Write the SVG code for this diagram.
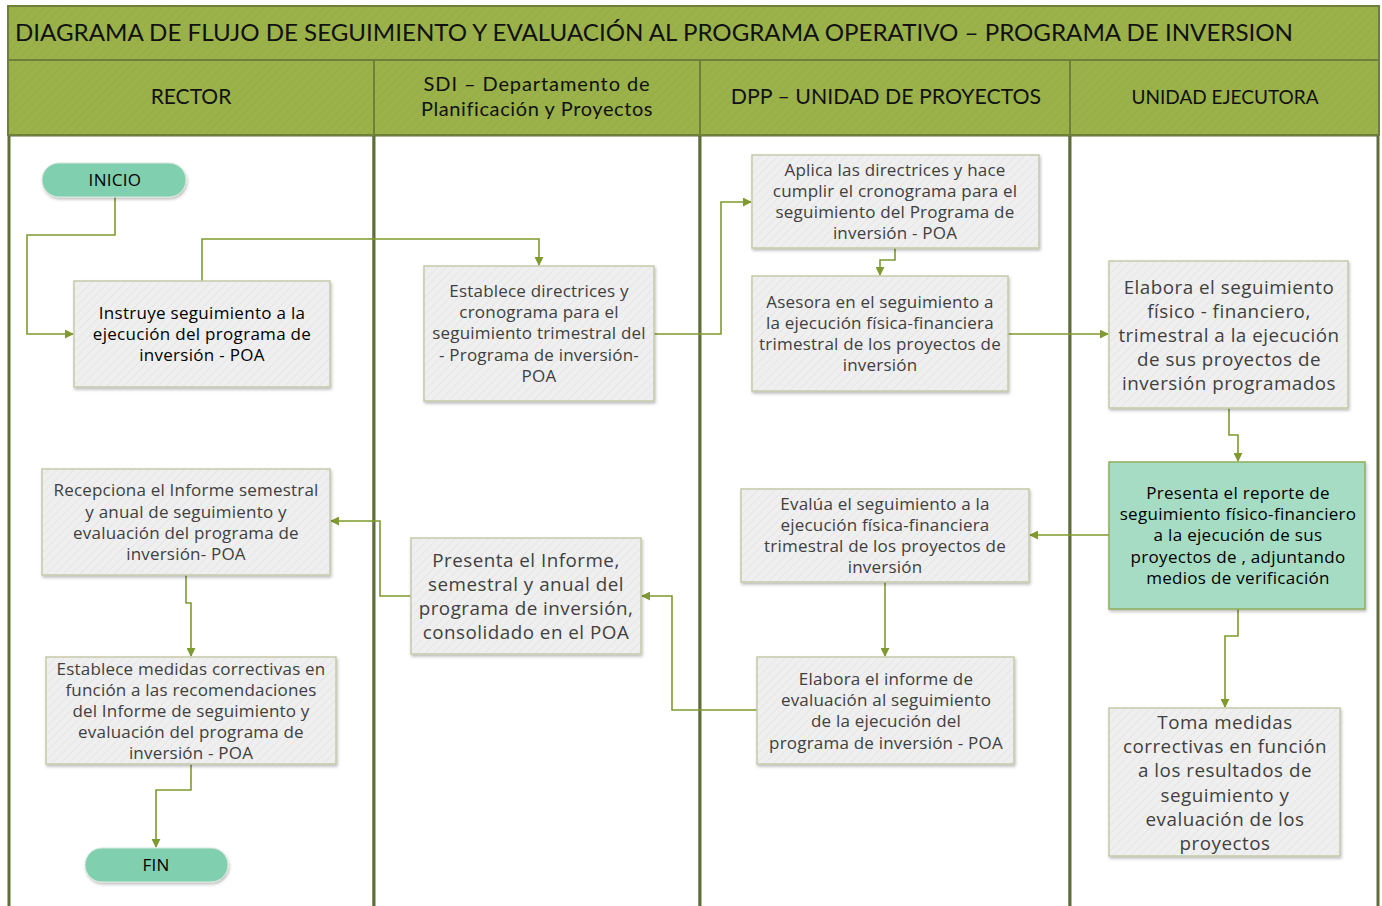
<svg xmlns="http://www.w3.org/2000/svg" width="1382" height="906" viewBox="0 0 1382 906">
<defs>
<pattern id="hatch" width="6" height="6" patternUnits="userSpaceOnUse" patternTransform="rotate(45)">
<rect width="6" height="6" fill="#efefef"/>
<line x1="0" y1="0" x2="0" y2="6" stroke="#e4e4e4" stroke-width="1.5"/>
</pattern>
<pattern id="hatchG" width="6" height="6" patternUnits="userSpaceOnUse" patternTransform="rotate(45)">
<rect width="6" height="6" fill="#9bb14a"/>
<line x1="0" y1="0" x2="0" y2="6" stroke="#94aa44" stroke-width="1.5"/>
</pattern>
<filter id="sh" x="-10%" y="-10%" width="125%" height="130%">
<feDropShadow dx="1" dy="2" stdDeviation="1.5" flood-color="#000" flood-opacity="0.25"/>
</filter>
<marker id="arr" viewBox="0 0 10 10" refX="9" refY="5" markerWidth="9" markerHeight="9" markerUnits="userSpaceOnUse" orient="auto">
<path d="M0,0 L10,5 L0,10 z" fill="#7f9a2e"/>
</marker>
<style>
.box{fill:url(#hatch);stroke:#c6caa8;stroke-width:1.5;filter:url(#sh)}
.pill{fill:#80cfae;stroke:#d8e8e0;stroke-width:1;filter:url(#sh)}
.green{fill:#a6dcc4;stroke:#8fae5a;stroke-width:1.5;filter:url(#sh)}
.t{font-family:"Open Sans",Lato,sans-serif;font-size:17px;letter-spacing:0.2px;fill:#404040;text-anchor:middle}
.tl{font-size:18.8px;letter-spacing:0.5px}
.tb{fill:#000;font-size:17px;letter-spacing:0.3px}
.h{font-family:Lato,"Open Sans",sans-serif;font-size:21px;fill:#111;text-anchor:middle}
.c{fill:none;stroke:#7f9a2e;stroke-width:1.6;marker-end:url(#arr)}
.lane{fill:#fff;stroke:#5f6e3a;stroke-width:3}
.hd{fill:url(#hatchG);stroke:#6e7f3a;stroke-width:2}
</style>
</defs>
<rect width="1382" height="906" fill="#fff"/>
<g id="lanes">
<rect class="lane" x="9" y="135" width="365" height="780"/>
<rect class="lane" x="374" y="135" width="326" height="780"/>
<rect class="lane" x="700" y="135" width="370" height="780"/>
<rect class="lane" x="1070" y="135" width="308" height="780"/>
</g>
<g id="header">
<rect class="hd" x="8" y="6" width="1371" height="54"/>
<text class="h" x="15" y="41" style="text-anchor:start;font-size:23px" textLength="1278" lengthAdjust="spacingAndGlyphs">DIAGRAMA DE FLUJO DE SEGUIMIENTO Y EVALUACIÓN AL PROGRAMA OPERATIVO – PROGRAMA DE INVERSION</text>
<rect class="hd" x="8" y="60" width="366" height="75"/>
<rect class="hd" x="374" y="60" width="326" height="75"/>
<rect class="hd" x="700" y="60" width="370" height="75"/>
<rect class="hd" x="1070" y="60" width="309" height="75"/>
<text class="h" x="191" y="104">RECTOR</text>
<text class="h" x="537" y="91" style="font-size:20px;letter-spacing:0.9px">SDI – Departamento de</text>
<text class="h" x="537" y="116" style="font-size:20px;letter-spacing:0.6px">Planificación y Proyectos</text>
<text class="h" x="886" y="104" style="font-size:21.3px">DPP – UNIDAD DE PROYECTOS</text>
<text class="h" x="1225" y="104" style="font-size:19px">UNIDAD EJECUTORA</text>
</g>
<g id="connectors">
<path class="c" d="M115,197 V235 H27 V334 H73"/>
<path class="c" d="M202,281 V239 H539 V265"/>
<path class="c" d="M654,334 H721 V202 H751"/>
<path class="c" d="M895,248 V260 H880 V275"/>
<path class="c" d="M1008,334 H1108"/>
<path class="c" d="M1229,408 V435 H1238 V461"/>
<path class="c" d="M1109,535 H1030"/>
<path class="c" d="M1238,609 V636 H1225 V707"/>
<path class="c" d="M885,582 V656"/>
<path class="c" d="M757,710 H672 V596 H642"/>
<path class="c" d="M411,596 H380 V521 H331"/>
<path class="c" d="M186,575 V603 H191 V656"/>
<path class="c" d="M191,764 V790 H156 V847"/>
</g>
<g id="inicio">
<rect class="pill" x="42" y="163" width="144" height="34" rx="17"/>
<text class="t tb" x="115" y="186">INICIO</text>
</g>
<g id="instruye">
<rect class="box" x="74" y="281" width="256" height="106"/>
<text class="t tb" x="202" y="319">Instruye seguimiento a la</text>
<text class="t tb" x="202" y="340">ejecución del programa de</text>
<text class="t tb" x="202" y="361">inversión - POA</text>
</g>
<g id="establece-directrices">
<rect class="box" x="424" y="266" width="230" height="135"/>
<text class="t" x="539" y="297">Establece directrices y</text>
<text class="t" x="539" y="318">cronograma para el</text>
<text class="t" x="539" y="339">seguimiento trimestral del</text>
<text class="t" x="539" y="361">- Programa de inversión-</text>
<text class="t" x="539" y="382">POA</text>
</g>
<g id="aplica">
<rect class="box" x="752" y="155" width="287" height="93"/>
<text class="t" x="895" y="176">Aplica las directrices y hace</text>
<text class="t" x="895" y="197">cumplir el cronograma para el</text>
<text class="t" x="895" y="218">seguimiento del Programa de</text>
<text class="t" x="895" y="239">inversión - POA</text>
</g>
<g id="asesora">
<rect class="box" x="752" y="276" width="256" height="115"/>
<text class="t" x="880" y="308">Asesora en el seguimiento a</text>
<text class="t" x="880" y="329">la ejecución física-financiera</text>
<text class="t" x="880" y="350">trimestral de los proyectos de</text>
<text class="t" x="880" y="371">inversión</text>
</g>
<g id="elabora-seguimiento">
<rect class="box" x="1109" y="261" width="239" height="147"/>
<text class="t tl" x="1229" y="294">Elabora el seguimiento</text>
<text class="t tl" x="1229" y="318">físico - financiero,</text>
<text class="t tl" x="1229" y="342">trimestral a la ejecución</text>
<text class="t tl" x="1229" y="366">de sus proyectos de</text>
<text class="t tl" x="1229" y="390">inversión programados</text>
</g>
<g id="presenta-reporte">
<rect class="green" x="1109" y="462" width="256" height="147"/>
<text class="t tb" x="1238" y="499">Presenta el reporte de</text>
<text class="t tb" x="1238" y="520">seguimiento físico-financiero</text>
<text class="t tb" x="1238" y="541">a la ejecución de sus</text>
<text class="t tb" x="1238" y="563">proyectos de , adjuntando</text>
<text class="t tb" x="1238" y="584">medios de verificación</text>
</g>
<g id="evalua">
<rect class="box" x="741" y="489" width="288" height="93"/>
<text class="t" x="885" y="510">Evalúa el seguimiento a la</text>
<text class="t" x="885" y="531">ejecución física-financiera</text>
<text class="t" x="885" y="552">trimestral de los proyectos de</text>
<text class="t" x="885" y="573">inversión</text>
</g>
<g id="elabora-informe">
<rect class="box" x="757" y="657" width="257" height="107"/>
<text class="t" x="886" y="685">Elabora el informe de</text>
<text class="t" x="886" y="706">evaluación al seguimiento</text>
<text class="t" x="886" y="727">de  la ejecución del</text>
<text class="t" x="886" y="749">programa de inversión - POA</text>
</g>
<g id="presenta-informe">
<rect class="box" x="411" y="538" width="230" height="116"/>
<text class="t tl" x="526" y="567">Presenta el Informe,</text>
<text class="t tl" x="526" y="591">semestral y anual del</text>
<text class="t tl" x="526" y="615">programa de inversión,</text>
<text class="t tl" x="526" y="639">consolidado en el POA</text>
</g>
<g id="recepciona">
<rect class="box" x="42" y="469" width="288" height="106"/>
<text class="t" x="186" y="496">Recepciona el Informe semestral</text>
<text class="t" x="186" y="518">y anual de seguimiento y</text>
<text class="t" x="186" y="539">evaluación del programa de</text>
<text class="t" x="186" y="560">inversión- POA</text>
</g>
<g id="establece-medidas">
<rect class="box" x="46" y="657" width="290" height="107"/>
<text class="t" x="191" y="675">Establece medidas correctivas en</text>
<text class="t" x="191" y="696">función a las recomendaciones</text>
<text class="t" x="191" y="717">del Informe de seguimiento y</text>
<text class="t" x="191" y="738">evaluación del programa de</text>
<text class="t" x="191" y="759">inversión - POA</text>
</g>
<g id="toma-medidas">
<rect class="box" x="1109" y="708" width="231" height="148"/>
<text class="t tl" x="1225" y="729">Toma medidas</text>
<text class="t tl" x="1225" y="753">correctivas en función</text>
<text class="t tl" x="1225" y="777">a los resultados de</text>
<text class="t tl" x="1225" y="802">seguimiento y</text>
<text class="t tl" x="1225" y="826">evaluación de los</text>
<text class="t tl" x="1225" y="850">proyectos</text>
</g>
<g id="fin">
<rect class="pill" x="85" y="848" width="143" height="34" rx="17"/>
<text class="t tb" x="156" y="871">FIN</text>
</g>
</svg>
